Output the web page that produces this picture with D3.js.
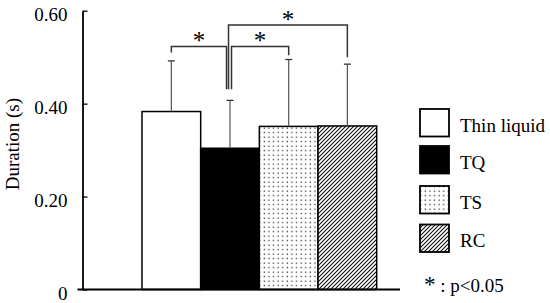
<!DOCTYPE html>
<html>
<head>
<meta charset="utf-8">
<script src="https://cdn.jsdelivr.net/npm/d3@7"></script>
</head>
<body style="margin:0;background:#fff">
<div id="chart"></div>
<script>
// chart values
const categories = ['Thin liquid', 'TQ', 'TS', 'RC'];
const means = [0.383, 0.304, 0.351, 0.352];
const upperSD = [0.492, 0.407, 0.495, 0.485];
const yTicks = [0, 0.2, 0.4, 0.6];
const yTickLabels = ['0', '0.20', '0.40', '0.60'];
// significance brackets: [left group, right group], bracket top, leg ends
const sigPairs = [['Thin liquid', 'TQ'], ['TQ', 'TS'], ['TQ', 'RC']];
const sigTops = [0.523, 0.523, 0.569];
const sigLegEnds = [[0.510, 0.431], [0.431, 0.504], [0.431, 0.500]];
const fills = ['white', 'black', 'url(#dots)', 'url(#hatch)'];

const FONT = '"Liberation Serif"';
const W = 550, H = 303;
const svg = d3.select('#chart')
  .append('svg')
  .attr('width', W)
  .attr('height', H);

// patterns
const defs = svg.append('defs');
const dots = defs.append('pattern')
  .attr('id', 'dots')
  .attr('patternUnits', 'userSpaceOnUse')
  .attr('width', 4.6).attr('height', 4.5);
dots.append('rect').attr('width', 4.6).attr('height', 4.5).attr('fill', 'white');
dots.append('rect').attr('x', 1.5).attr('y', 1.5).attr('width', 1.3).attr('height', 1.3).attr('fill', '#333');

const hatch = defs.append('pattern')
  .attr('id', 'hatch')
  .attr('patternUnits', 'userSpaceOnUse')
  .attr('width', 4).attr('height', 4);
hatch.append('rect').attr('width', 4).attr('height', 4).attr('fill', 'white');
hatch.append('path')
  .attr('d', 'M-1,1 l2,-2 M0,4 l4,-4 M3,5 l2,-2')
  .attr('stroke', '#111')
  .attr('stroke-width', 1.1);

// scales
const x = d3.scaleBand()
  .domain(categories)
  .range([142, 376.7])
  .padding(0);

const y = d3.scaleLinear()
  .domain([0, 0.6])
  .range([289.5, 10.7]);

// bars
svg.selectAll('.bar')
  .data(categories)
  .enter()
  .append('rect')
  .attr('class', 'bar')
  .attr('x', d => x(d))
  .attr('width', x.bandwidth())
  .attr('y', (d, i) => y(means[i]))
  .attr('height', (d, i) => y(0) - y(means[i]))
  .attr('fill', (d, i) => fills[i])
  .attr('stroke', '#000')
  .attr('stroke-width', 1.5);

// error bars (upper only)
const cx = d => x(d) + x.bandwidth() / 2;
svg.selectAll('.err')
  .data(categories)
  .enter()
  .append('line')
  .attr('x1', cx).attr('x2', cx)
  .attr('y1', (d, i) => y(means[i]))
  .attr('y2', (d, i) => y(upperSD[i]))
  .attr('stroke', '#555')
  .attr('stroke-width', 1.2);
svg.selectAll('.cap')
  .data(categories)
  .enter()
  .append('line')
  .attr('x1', d => cx(d) - 3.5).attr('x2', d => cx(d) + 3.5)
  .attr('y1', (d, i) => y(upperSD[i]))
  .attr('y2', (d, i) => y(upperSD[i]))
  .attr('stroke', '#333')
  .attr('stroke-width', 1.3);

// y axis
const yAxis = svg.append('g')
  .attr('transform', 'translate(82.5,0)')
  .call(d3.axisLeft(y)
    .tickValues(yTicks)
    .tickFormat((d, i) => yTickLabels[i])
    .tickSizeInner(-5)
    .tickSizeOuter(0)
    .tickPadding(15));
yAxis.select('.domain').attr('stroke', '#000').attr('stroke-width', 1.8);
yAxis.selectAll('.tick line').attr('stroke', '#000').attr('stroke-width', 1.3);
yAxis.selectAll('.tick text')
  .attr('dy', '0.52em')
  .attr('fill', '#000')
  .style('font-size', '19px')
  .style('font-family', FONT);

// x axis line (no ticks)
svg.append('line')
  .attr('x1', 77.5).attr('x2', 400)
  .attr('y1', y(0)).attr('y2', y(0))
  .attr('stroke', '#000')
  .attr('stroke-width', 1.8);

// y label
svg.append('text')
  .attr('transform', `translate(19,${(y(0.6) + y(0)) / 2 - 6}) rotate(-90)`)
  .attr('text-anchor', 'middle')
  .attr('fill', '#000')
  .style('font-family', FONT)
  .style('font-size', '19px')
  .text('Duration (s)');

// significance brackets
const legShift = [[0, -3.5], [1.5, 0], [-1.5, 0]];
sigPairs.forEach((p, i) => {
  const xl = cx(p[0]) + legShift[i][0];
  const xr = cx(p[1]) + legShift[i][1];
  const top = y(sigTops[i]);
  svg.append('path')
    .attr('d', `M${xl},${y(sigLegEnds[i][0])} V${top} H${xr} V${y(sigLegEnds[i][1])}`)
    .attr('fill', 'none')
    .attr('stroke', '#333')
    .attr('stroke-width', 1.5);
  svg.append('text')
    .attr('x', (xl + xr) / 2)
    .attr('y', top + 2.5)
    .attr('text-anchor', 'middle')
    .attr('fill', '#000')
    .style('font-family', FONT)
    .style('font-size', '25px')
    .text('*');
});

// legend
const legend = svg.append('g');
const legY = [109, 146, 186, 224.5];
categories.forEach((c, i) => {
  legend.append('rect')
    .attr('x', 420)
    .attr('y', legY[i])
    .attr('width', 29)
    .attr('height', 27.5)
    .attr('fill', fills[i])
    .attr('stroke', '#000')
    .attr('stroke-width', 1.8);
  legend.append('text')
    .attr('x', 460)
    .attr('y', legY[i] + 22.5)
    .attr('fill', '#000')
    .style('font-family', FONT)
    .style('font-size', '19px')
    .text(c);
});
const note = legend.append('text')
  .attr('x', 424)
  .attr('y', 292)
  .attr('fill', '#000')
  .style('font-family', FONT)
  .style('font-size', '19px');
note.append('tspan').style('font-size', '23px').text('*');
note.append('tspan').text(' : p<0.05');
</script>
</body>
</html>
